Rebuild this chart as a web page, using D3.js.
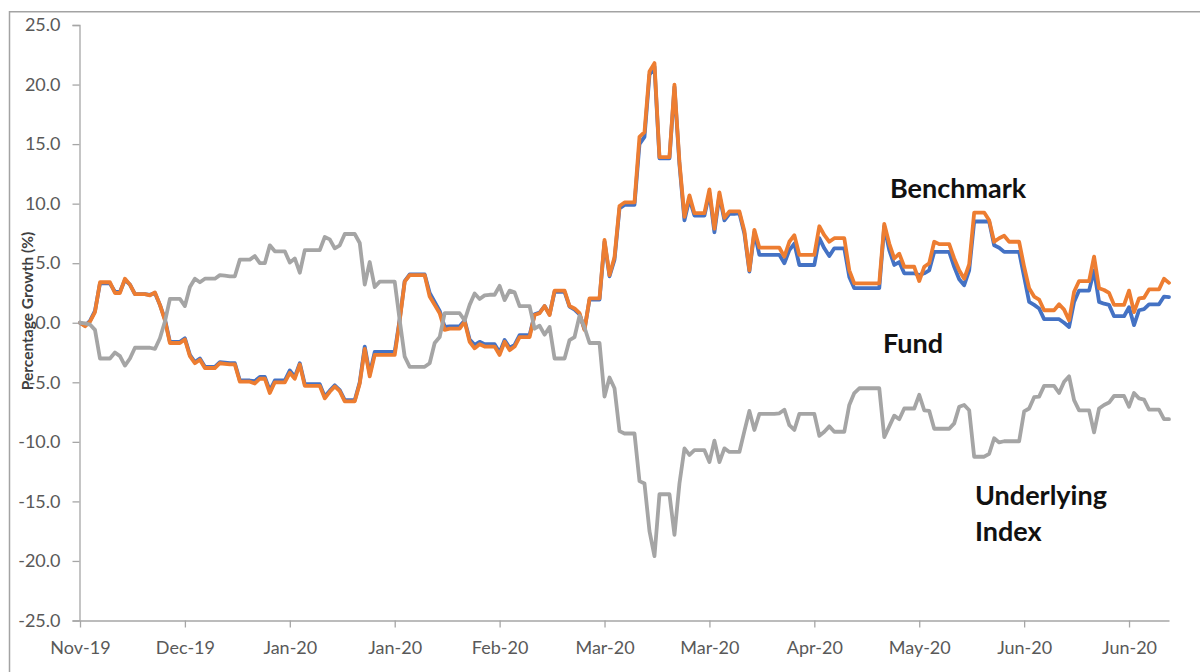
<!DOCTYPE html>
<html>
<head>
<meta charset="utf-8">
<script src="https://cdn.jsdelivr.net/npm/d3@7"></script>
<style>
  html, body { margin: 0; padding: 0; background: #fff; }
  svg { display: block; }
</style>
</head>
<body>
<svg id="chart" width="1200" height="672"></svg>
<script>
// ---------- DATA (one value per calendar day, starting 25 Nov 2019) ----------
const startDate = "2019-11-25";

const fund = [
  0.0, -0.25, 0.15, 1.0, 3.3, 3.3, 3.3,
  2.6, 2.6, 3.6, 3.2, 2.4, 2.4, 2.4,
  2.35, 2.5, 1.5, 0.3, -1.6, -1.6, -1.6,
  -1.3, -2.7, -3.3, -3.0, -3.7, -3.7, -3.7,
  -3.3, -3.35, -3.4, -3.4, -4.85, -4.85, -4.85,
  -4.9, -4.55, -4.55, -5.7, -4.85, -4.85, -4.85,
  -4.0, -4.55, -3.4, -5.15, -5.15, -5.15, -5.15,
  -6.2, -5.7, -5.25, -5.65, -6.5, -6.5, -6.5,
  -5.0, -2.0, -4.3, -2.45, -2.45, -2.45, -2.45,
  -2.45, 0.3, 3.5, 4.05, 4.05, 4.05, 4.05,
  2.5, 1.75, 1.0, -0.35, -0.3, -0.3, -0.3,
  0.2, -1.4, -1.85, -1.6, -1.8, -1.8, -1.8,
  -2.5, -1.45, -2.1, -1.85, -1.05, -1.05, -1.05,
  0.7, 0.85, 1.4, 0.7, 2.6, 2.6, 2.6,
  1.35, 1.1, 0.7, -0.55, 1.95, 1.95, 1.95,
  6.8, 3.9, 5.3, 9.6, 9.9, 9.9, 9.9,
  15.0, 15.6, 20.8, 21.5, 13.8, 13.8, 13.8,
  19.8, 13.3, 8.6, 10.4, 9.0, 9.0, 9.0,
  10.9, 7.6, 10.7, 8.6, 9.15, 9.15, 9.2,
  7.5, 4.3, 7.6, 5.7, 5.7, 5.7, 5.7,
  5.7, 5.0, 6.1, 6.65, 4.85, 4.85, 4.85,
  4.85, 7.1, 6.25, 5.6, 6.25, 6.25, 6.25,
  3.85, 2.9, 2.9, 2.9, 2.9, 2.9, 2.9,
  8.1, 6.1, 4.85, 5.1, 4.15, 4.15, 4.15,
  4.0, 4.15, 4.4, 5.95, 5.95, 5.95, 5.95,
  4.7, 3.65, 3.15, 4.4, 8.5, 8.5, 8.5,
  8.5, 6.5, 6.3, 5.95, 5.95, 5.95, 5.95,
  3.85, 1.75, 1.5, 1.2, 0.3, 0.3, 0.3,
  0.3, 0.0, -0.35, 1.75, 2.7, 2.7, 2.7,
  4.4, 1.75, 1.6, 1.5, 0.55, 0.55, 0.55,
  1.3, -0.2, 1.05, 1.15, 1.55, 1.55, 1.55,
  2.2, 2.15
];

const benchmark = [
  0.0, -0.3, 0.1, 0.9, 3.4, 3.4, 3.4,
  2.5, 2.5, 3.7, 3.2, 2.4, 2.4, 2.4,
  2.3, 2.55, 1.5, 0.2, -1.7, -1.7, -1.7,
  -1.4, -2.8, -3.4, -3.1, -3.8, -3.8, -3.8,
  -3.4, -3.45, -3.5, -3.5, -4.95, -4.95, -4.95,
  -5.1, -4.7, -4.7, -5.9, -5.0, -5.0, -5.0,
  -4.2, -4.7, -3.5, -5.3, -5.3, -5.3, -5.3,
  -6.35, -5.8, -5.35, -5.75, -6.6, -6.6, -6.6,
  -5.1, -2.2, -4.5, -2.7, -2.7, -2.7, -2.7,
  -2.7, 0.2, 3.45, 4.0, 4.0, 4.0, 4.0,
  2.2, 1.5, 0.8, -0.6, -0.5, -0.5, -0.5,
  0.1, -1.6, -2.15, -1.8, -2.0, -2.0, -2.0,
  -2.7, -1.6, -2.3, -2.0, -1.2, -1.2, -1.2,
  0.65, 0.8, 1.4, 0.65, 2.7, 2.7, 2.7,
  1.4, 1.2, 0.8, -0.6, 2.05, 2.05, 2.05,
  6.95, 4.0, 5.5, 9.8, 10.1, 10.1, 10.1,
  15.6, 16.0, 21.1, 21.8, 13.9, 13.9, 13.9,
  20.0, 13.5, 8.9, 10.7, 9.2, 9.2, 9.2,
  11.2, 7.9, 10.95, 8.8, 9.35, 9.35, 9.35,
  7.7, 4.4, 7.8, 6.3, 6.3, 6.3, 6.3,
  6.3, 5.55, 6.8, 7.35, 5.7, 5.7, 5.7,
  5.7, 8.1, 7.35, 6.8, 7.1, 7.1, 7.1,
  4.4, 3.3, 3.3, 3.3, 3.3, 3.3, 3.3,
  8.3, 6.65, 5.4, 5.8, 4.7, 4.7, 4.7,
  3.5, 4.7, 5.0, 6.8, 6.6, 6.6, 6.6,
  5.4, 4.4, 3.7, 4.9, 9.25, 9.25, 9.25,
  8.6, 6.8, 7.1, 7.3, 6.8, 6.8, 6.8,
  4.7, 2.9, 2.2, 1.95, 1.05, 1.05, 1.05,
  1.55, 1.1, 0.2, 2.6, 3.5, 3.5, 3.5,
  5.55, 2.9, 2.75, 2.5, 1.5, 1.5, 1.5,
  2.7, 0.9, 2.05, 2.1, 2.8, 2.8, 2.8,
  3.7, 3.35
];

const underlyingIndex = [
  0.0, -0.05, -0.15, -0.6, -3.0, -3.0, -3.0,
  -2.5, -2.8, -3.6, -3.0, -2.1, -2.1, -2.1,
  -2.1, -2.2, -1.3, 0.1, 2.0, 2.0, 2.0,
  1.4, 3.0, 3.7, 3.4, 3.7, 3.7, 3.7,
  4.0, 3.95, 3.9, 3.9, 5.3, 5.3, 5.3,
  5.6, 5.0, 5.0, 6.5, 6.0, 6.0, 6.0,
  5.05, 5.4, 4.2, 6.1, 6.1, 6.1, 6.1,
  7.2, 7.0, 6.25, 6.5, 7.45, 7.45, 7.45,
  6.7, 3.2, 5.1, 3.0, 3.45, 3.45, 3.45,
  3.45, 0.2, -2.85, -3.7, -3.7, -3.7, -3.7,
  -3.4, -1.7, -1.2, 0.8, 0.8, 0.8, 0.8,
  0.2, 1.5, 2.45, 2.0, 2.3, 2.35, 2.35,
  3.1, 1.9, 2.7, 2.55, 1.4, 1.4, 1.4,
  -0.5, -0.25, -1.0, -0.35, -3.0, -3.0, -3.0,
  -1.45, -1.2, 0.6, -0.4, -1.7, -1.7, -1.7,
  -6.2, -4.6, -5.5, -9.1, -9.3, -9.3, -9.3,
  -13.3, -13.5, -17.5, -19.6, -14.4, -14.4, -14.4,
  -17.8, -13.5, -10.55, -11.1, -10.7, -10.7, -10.7,
  -11.7, -9.9, -11.7, -10.55, -10.85, -10.85, -10.85,
  -9.1, -7.4, -9.0, -7.65, -7.65, -7.65, -7.65,
  -7.6, -7.3, -8.6, -9.0, -7.65, -7.65, -7.65,
  -7.65, -9.5, -9.15, -8.7, -9.15, -9.15, -9.15,
  -6.9, -5.9, -5.5, -5.5, -5.5, -5.5, -5.5,
  -9.6, -8.7, -7.8, -8.1, -7.2, -7.2, -7.2,
  -6.05, -7.35, -7.4, -8.9, -8.9, -8.9, -8.9,
  -8.45, -7.05, -6.9, -7.35, -11.25, -11.25, -11.25,
  -11.0, -9.7, -10.05, -9.95, -9.95, -9.95, -9.95,
  -7.45, -7.2, -6.25, -6.2, -5.3, -5.3, -5.3,
  -5.9, -4.95, -4.5, -6.5, -7.35, -7.35, -7.35,
  -9.2, -7.2, -6.9, -6.7, -6.15, -6.15, -6.15,
  -7.05, -5.9, -6.35, -6.45, -7.3, -7.3, -7.3,
  -8.1, -8.1
];

const xTickLabels = ["Nov-19", "Dec-19", "Jan-20", "Jan-20", "Feb-20", "Mar-20",
                     "Mar-20", "Apr-20", "May-20", "Jun-20", "Jun-20"];
const xTickEveryDays = 21;
const yTicks = [-25, -20, -15, -10, -5, 0, 5, 10, 15, 20, 25];

const seriesNames = ["Fund", "Benchmark", "Underlying Index"];
const seriesColors = ["#4472C4", "#ED7D31", "#A5A5A5"];

// ---------- CHART ----------
const svg = d3.select("#chart");
const DAY = 864e5;
const t0 = new Date(startDate + "T00:00:00Z").getTime();
const dates = benchmark.map((_, i) => new Date(t0 + i * DAY));

const x = d3.scaleUtc()
  .domain([dates[0], dates[dates.length - 1]])
  .range([80, 1169]);
const y = d3.scaleLinear().domain([-25, 25]).range([620.5, 25]);

// outer chart border (left + top visible)
svg.append("path")
  .attr("d", "M9.5,680 L9.5,11.8 L1210,11.8")
  .attr("fill", "none")
  .attr("stroke", "#A3A3A3")
  .attr("stroke-width", 1.5);

const tickFont = "Lato, 'Open Sans', sans-serif";

// Y axis
const yAxis = d3.axisLeft(y)
  .tickValues(yTicks)
  .tickSize(7)
  .tickPadding(12)
  .tickFormat(d => d.toFixed(1));
const gy = svg.append("g").attr("transform", "translate(79.5,0)").call(yAxis);
gy.select(".domain").attr("stroke", "#A6A6A6").attr("stroke-width", 1.3);
gy.selectAll(".tick line").attr("stroke", "#A6A6A6").attr("stroke-width", 1.3);
gy.selectAll(".tick text")
  .attr("fill", "#595959")
  .style("font-family", tickFont)
  .style("font-size", "18px");

// X axis
const tickDates = xTickLabels.map((_, j) => new Date(t0 + j * xTickEveryDays * DAY));
const xAxis = d3.axisBottom(x)
  .tickValues(tickDates)
  .tickSize(7)
  .tickPadding(14)
  .tickSizeOuter(0)
  .tickFormat((d, i) => xTickLabels[i]);
const gx = svg.append("g").attr("transform", "translate(0,620.5)").call(xAxis);
gx.select(".domain").attr("stroke", "#A6A6A6").attr("stroke-width", 1.3);
gx.selectAll(".tick line").attr("stroke", "#A6A6A6").attr("stroke-width", 1.3);
gx.selectAll(".tick text")
  .attr("fill", "#595959")
  .style("font-family", tickFont)
  .style("font-size", "18px");

// Y axis title
svg.append("text")
  .attr("transform", "translate(33,311) rotate(-90)")
  .attr("text-anchor", "middle")
  .attr("fill", "#404040")
  .style("font-family", tickFont)
  .style("font-weight", "bold")
  .style("font-size", "15.5px")
  .text("Percentage Growth (%)");

// Lines
const line = d3.line()
  .x((d, i) => x(dates[i]))
  .y(d => y(d));

[fund, benchmark, underlyingIndex].forEach((s, k) => {
  svg.append("path")
    .datum(s)
    .attr("fill", "none")
    .attr("stroke", seriesColors[k])
    .attr("stroke-width", 3.8)
    .attr("stroke-linejoin", "round")
    .attr("stroke-linecap", "round")
    .attr("d", line);
});

// Annotations
const ann = svg.append("g")
  .style("font-family", tickFont)
  .style("font-weight", "bold")
  .style("font-size", "27px")
  .attr("fill", "#111");
ann.append("text").attr("x", 890).attr("y", 198).text(seriesNames[1]);
ann.append("text").attr("x", 883).attr("y", 353).text(seriesNames[0]);
const ui = ann.append("text").attr("x", 975).attr("y", 505);
ui.append("tspan").attr("x", 975).text("Underlying");
ui.append("tspan").attr("x", 975).attr("dy", 36).text("Index");
</script>
</body>
</html>
